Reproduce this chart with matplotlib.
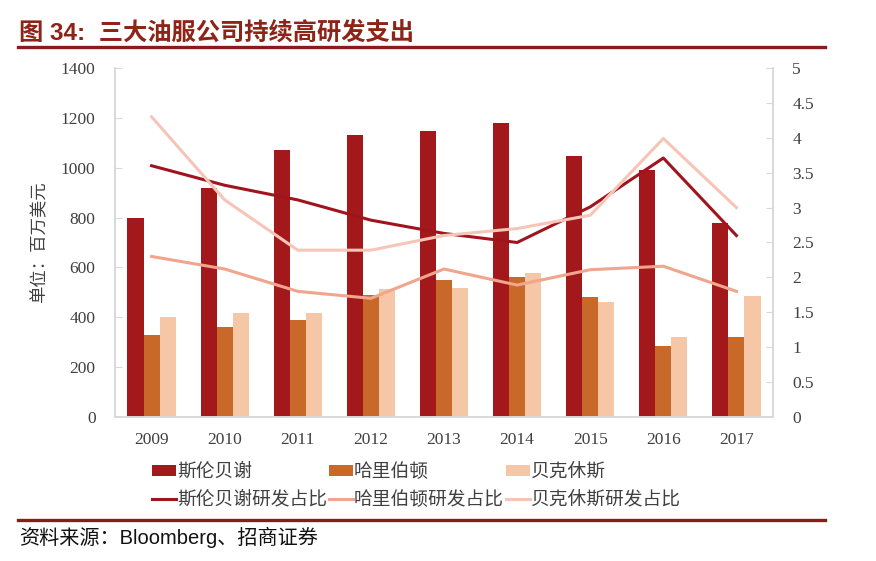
import numpy as np
import matplotlib.pyplot as plt
from matplotlib.patches import Patch
from matplotlib.lines import Line2D

plt.rcParams['font.family'] = ['Liberation Serif', 'Noto Sans CJK SC', 'DejaVu Sans']

years = ["2009", "2010", "2011", "2012", "2013", "2014", "2015", "2016", "2017"]
slb_rd = [800, 920, 1070, 1130, 1148, 1180, 1048, 990, 780]
hal_rd = [328, 362, 389, 488, 550, 563, 480, 285, 322]
bhi_rd = [400, 416, 416, 512, 517, 579, 461, 322, 485]
slb_pct = [3.60, 3.32, 3.11, 2.82, 2.63, 2.50, 3.01, 3.71, 2.60]
hal_pct = [2.30, 2.12, 1.80, 1.70, 2.12, 1.89, 2.11, 2.16, 1.80]
bhi_pct = [4.30, 3.11, 2.39, 2.39, 2.60, 2.70, 2.89, 3.99, 3.00]

C_SLB = "#A3191B"
C_HAL = "#C8692A"
C_BHI = "#F6C7A6"
L_SLB = "#A0141E"
L_HAL = "#F0A58C"
L_BHI = "#F7C5B8"
TITLE = "#8E2418"
GRID = "#D9D9D9"
TXT = "#404040"

fig = plt.figure(figsize=(8.76, 5.61), dpi=100)
ax = fig.add_axes([0.1313, 0.2567, 0.7511, 0.6221])
ax2 = ax.twinx()

x = np.arange(len(years))
w = 0.22
ax.bar(x - w, slb_rd, w, color=C_SLB, zorder=2)
ax.bar(x, hal_rd, w, color=C_HAL, zorder=2)
ax.bar(x + w, bhi_rd, w, color=C_BHI, zorder=2)

ax2.plot(x, slb_pct, color=L_SLB, lw=2.2)
ax2.plot(x, hal_pct, color=L_HAL, lw=2.2)
ax2.plot(x, bhi_pct, color=L_BHI, lw=2.2)

ax.set_xlim(-0.5, len(years) - 0.5)
ax.set_ylim(0, 1400)
ax.set_yticks(range(0, 1401, 200))
ax2.set_ylim(0, 5)
ax2.set_yticks(np.arange(0, 5.01, 0.5))
ax2.set_yticklabels(["0", "0.5", "1", "1.5", "2", "2.5", "3", "3.5", "4", "4.5", "5"])
ax.set_xticks(x)
ax.set_xticklabels(years)

for a in (ax, ax2):
    for s in a.spines.values():
        s.set_color(GRID)
        s.set_linewidth(1.2)
    a.spines['top'].set_visible(False)
    a.tick_params(axis='y', colors=GRID, labelcolor=TXT, labelsize=12.5,
                  length=5, direction='in', pad=14)
    a.tick_params(axis='x', length=0, labelcolor=TXT, labelsize=12.5, pad=11)

ax.set_ylabel("单位：百万美元", family=['Noto Sans CJK SC'], fontsize=12.5, color=TXT, labelpad=9)

handles = [
    Patch(facecolor=C_SLB, label="斯伦贝谢"),
    Line2D([], [], color=L_SLB, lw=2.2, label="斯伦贝谢研发占比"),
    Patch(facecolor=C_HAL, label="哈里伯顿"),
    Line2D([], [], color=L_HAL, lw=2.2, label="哈里伯顿研发占比"),
    Patch(facecolor=C_BHI, label="贝克休斯"),
    Line2D([], [], color=L_BHI, lw=2.2, label="贝克休斯研发占比"),
]
fig.legend(handles=handles, ncol=3, loc="upper left", bbox_to_anchor=(0.173, 0.178),
           frameon=False, prop={'family': 'Noto Sans CJK SC', 'size': 13.5},
           handlelength=1.3, handleheight=0.55, handletextpad=0.05, columnspacing=0.1,
           labelspacing=0.35, labelcolor=TXT, borderpad=0, borderaxespad=0)

fig.text(0.022, 0.93, "图 34:  三大油服公司持续高研发支出", fontsize=17.5, fontweight='bold',
         color=TITLE, family=['Liberation Sans', 'Noto Sans CJK SC'])
fig.add_artist(Line2D([0.02, 0.942], [0.916, 0.916], color="#8B1A1A", lw=2.4))
fig.add_artist(Line2D([0.02, 0.942], [0.073, 0.073], color="#8B1A1A", lw=2.4))
fig.text(0.022, 0.03, "资料来源：Bloomberg、招商证券", fontsize=14.5, color="#111111",
         family=['Liberation Sans', 'Noto Sans CJK SC'])

fig.savefig("out.png", dpi=100)
